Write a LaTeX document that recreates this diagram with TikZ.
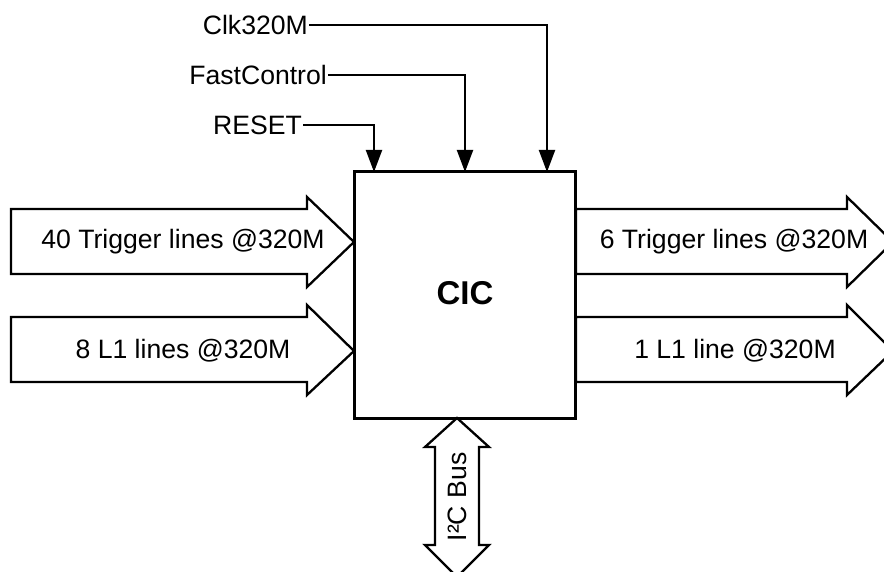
\documentclass[tikz,border=0pt]{standalone}
\usepackage{fontspec}
\setmainfont{Liberation Sans}
\usetikzlibrary{arrows.meta}
\begin{document}
\begin{tikzpicture}[x=1pt,y=-1pt,
  lbl/.style={font=\fontsize{26.6}{30}\selectfont, inner sep=1pt},
  bigarrow/.style={draw=black, line width=2.3pt, fill=white, line join=miter},
  sig/.style={draw=black, line width=2.1pt, -{Triangle[length=22pt,width=16pt]}},
  box/.style={draw=black, line width=2.1pt, fill=white, minimum width=220pt, minimum height=246pt, inner sep=0pt}]
\useasboundingbox (0,0) rectangle (884,572);
\clip (0,0) rectangle (884,572);
\fill[white] (0,0) rectangle (884,572);

% central block
\node[box] (cic) at (465,295) {};
\node[font=\fontsize{33}{38}\selectfont\bfseries] (cictxt) at (465,293) {CIC};

% top signals
\node[lbl, anchor=east] (clk) at (309,25) {Clk320M};
\node[lbl, anchor=east] (fc) at (328,75) {FastControl};
\node[lbl, anchor=east] (rst) at (303,125) {RESET};
\coordinate (clkin) at (547,172);
\coordinate (fcin) at (465,172);
\coordinate (rstin) at (374,172);
\draw[sig] (clk.east) -| (clkin);
\draw[sig] (fc.east) -| (fcin);
\draw[sig] (rst.east) -| (rstin);

% left input arrows
\draw[bigarrow] (11,209) -- (307,209) -- (307,197) -- (354,242) -- (307,287) -- (307,274) -- (11,274) -- cycle;
\node[lbl] (in1) at (183,242) {40 Trigger lines @320M};
\draw[bigarrow] (11,317) -- (307,317) -- (307,305) -- (354,351) -- (307,395) -- (307,382) -- (11,382) -- cycle;
\node[lbl] (in2) at (183,351) {8 L1 lines @320M};

% right output arrows
\draw[bigarrow] (576,209) -- (847,209) -- (847,197) -- (893,242) -- (847,287) -- (847,274) -- (576,274) -- cycle;
\node[lbl] (out1) at (734,242) {6 Trigger lines @320M};
\draw[bigarrow] (576,317) -- (847,317) -- (847,305) -- (893,351) -- (847,395) -- (847,382) -- (576,382) -- cycle;
\node[lbl] (out2) at (735,351) {1 L1 line @320M};

% redraw block edges over arrow ends
\draw[line width=2.1pt] (cic.north west) rectangle (cic.south east);

% bottom I2C double arrow
\draw[bigarrow] (457,418) -- (489,447) -- (479,447) -- (479,545) -- (489,545) -- (457,577) -- (425,545) -- (435,545) -- (435,447) -- (425,447) -- cycle;
\node[lbl, rotate=90] (i2c) at (457,497) {I²C Bus};
\end{tikzpicture}
\end{document}
